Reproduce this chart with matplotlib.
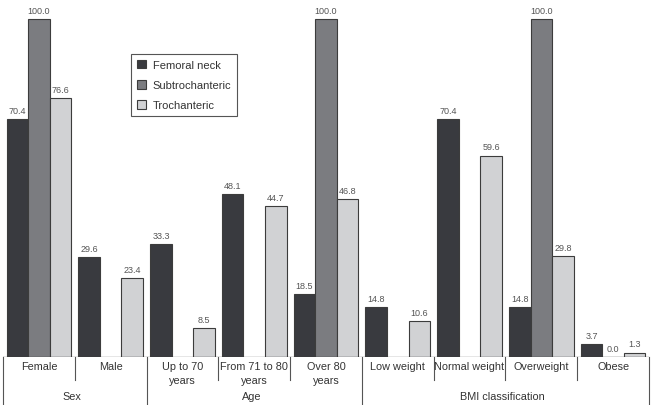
"""Hip fracture type by sex, age and BMI: grouped bars with a two-level x axis."""

import matplotlib
matplotlib.use("Agg")
import matplotlib.pyplot as plt
import matplotlib.transforms as mtransforms
import numpy as np

plt.rcParams["font.family"] = ["Liberation Sans", "DejaVu Sans"]

categories = ["Female", "Male", "Up to 70\nyears", "From 71 to 80\nyears", "Over 80\nyears",
              "Low weight", "Normal weight", "Overweight", "Obese"]
groups = ["Sex", "Age", "BMI classification"]
group_sizes = [2, 3, 4]

series = ["Femoral neck", "Subtrochanteric", "Trochanteric"]
femoral_neck = [70.4, 29.6, 33.3, 48.1, 18.5, 14.8, 70.4, 14.8, 3.7]
subtrochanteric = [100.0, None, None, None, 100.0, None, None, 100.0, 0.0]
trochanteric = [76.6, 23.4, 8.5, 44.7, 46.8, 10.6, 59.6, 29.8, 1.3]

colors = ["#393a3f", "#7b7c80", "#d1d2d4"]
edge = "#3c3c3c"

fig = plt.figure(figsize=(6.64, 4.06), dpi=100)
ax = fig.add_axes([3 / 664, 48 / 406, 646 / 664, 358 / 406])

x = np.arange(len(categories)) + 0.5
width = 0.3
for j, (name, vals) in enumerate(zip(series, [femoral_neck, subtrochanteric, trochanteric])):
    xs = [xi + (j - 1) * width for xi, v in zip(x, vals) if v is not None]
    vs = [v for v in vals if v is not None]
    bars = ax.bar(xs, vs, width, color=colors[j], edgecolor=edge, linewidth=0.8, label=name)
    for b, v in zip(bars, vs):
        ax.annotate(f"{v:.1f}", (b.get_x() + b.get_width() / 2, v), xytext=(0, 3),
                    textcoords="offset points", ha="center", va="bottom",
                    fontsize=6.5, color="#555555")

ax.set_xlim(0, len(categories))
ax.set_ylim(0, 358 / 3.38)
ax.axis("off")
ax.axhline(0, color=edge, linewidth=0.9)

# two-level axis below the baseline
trans = mtransforms.blended_transform_factory(ax.transData, fig.transFigure)
y_base = 48 / 406
y_short = (406 - 381) / 406
for i, lab in enumerate(categories):
    ax.text(i + 0.5, (406 - 362) / 406, lab, transform=trans, ha="center", va="top",
            fontsize=7.8, color="#333333", linespacing=1.45)

bounds = np.concatenate([[0], np.cumsum(group_sizes)])
for k in range(len(categories) + 1):
    y_end = 0 if k in bounds else y_short
    ax.plot([k, k], [y_base, y_end], transform=trans, color="#555555",
            linewidth=0.8, clip_on=False)

for g, lo, hi in zip(groups, bounds[:-1], bounds[1:]):
    ax.text((lo + hi) / 2 - 0.04, (406 - 397) / 406, g, transform=trans, ha="center",
            va="center", fontsize=7.8, color="#333333")

leg = ax.legend(loc="upper left", bbox_to_anchor=(128 / 646, (358 - 55) / 358),
                borderaxespad=0, fancybox=False, fontsize=8, handlelength=0.85,
                handleheight=0.85, handletextpad=0.6, labelspacing=0.9,
                borderpad=0.5, framealpha=1)
leg.get_frame().set_edgecolor("#555555")
leg.get_frame().set_linewidth(0.8)
for t in leg.get_texts():
    t.set_color("#333333")

fig.savefig("out.png", dpi=100)
